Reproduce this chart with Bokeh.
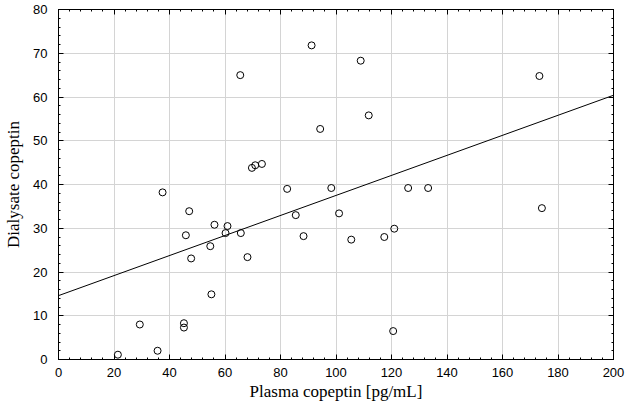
from bokeh.plotting import figure
from bokeh.models import LinearAxis, Range1d, SingleIntervalTicker, CustomJSTickFormatter, ColumnDataSource
from bokeh.embed import file_html
from bokeh.resources import INLINE
import numpy as np

# Data
plasma = [21.4, 29.3, 35.7, 37.5, 45.2, 45.2, 45.9, 47.1, 47.8, 54.7, 55.1, 56.2,
          60.2, 60.9, 65.5, 65.7, 68.1, 69.7, 70.9, 73.3, 82.4, 85.5, 88.3, 91.2,
          94.3, 98.3, 101.1, 105.5, 108.9, 111.8, 117.4, 120.6, 121.0, 126.0,
          133.2, 173.3, 174.2]
dialysate = [1.1, 8.0, 2.0, 38.2, 8.3, 7.3, 28.4, 33.9, 23.1, 25.9, 14.9, 30.8,
             28.9, 30.5, 65.0, 28.9, 23.4, 43.8, 44.4, 44.7, 39.0, 33.0, 28.2, 71.8,
             52.7, 39.2, 33.4, 27.4, 68.3, 55.8, 28.0, 6.5, 29.9, 39.2,
             39.2, 64.8, 34.6]
fit_intercept = 14.6
fit_slope = 0.229
x_range_limits = [0, 200]
y_range_limits = [0, 80]

p = figure(frame_width=555, frame_height=350, output_backend="svg", toolbar_location=None,
           x_range=Range1d(*x_range_limits), y_range=Range1d(*y_range_limits),
           min_border_left=58, min_border_right=15, min_border_top=9, min_border_bottom=42)
p.background_fill_color = "white"
p.border_fill_color = "white"
p.outline_line_color = "black"
p.outline_line_width = 1

fx = np.array(x_range_limits, dtype=float)
p.line(fx, fit_intercept + fit_slope * fx, line_color="black", line_width=1)

src = ColumnDataSource(dict(x=plasma, y=dialysate))
p.scatter("x", "y", source=src, size=7, marker="circle", fill_color=None,
          line_color="black", line_width=1)

xt = SingleIntervalTicker(interval=20, num_minor_ticks=5)
yt = SingleIntervalTicker(interval=10, num_minor_ticks=5)

def style(ax):
    ax.axis_line_color = "black"
    ax.major_tick_in = 5
    ax.major_tick_out = 0
    ax.minor_tick_in = 2
    ax.minor_tick_out = 0
    ax.major_tick_line_color = "black"
    ax.minor_tick_line_color = "black"
    ax.major_label_text_font = "Liberation Sans"
    ax.major_label_text_font_size = "13px"
    ax.major_label_text_color = "black"
    ax.axis_label_text_font = "Liberation Serif"
    ax.axis_label_text_font_size = "17px"
    ax.axis_label_text_font_style = "normal"
    ax.axis_label_text_color = "black"

xa = p.xaxis[0]
xa.ticker = xt
xa.axis_label = "Plasma copeptin [pg/mL]"
style(xa)
xa.major_label_standoff = 8
xa.axis_label_standoff = 2

ya = p.yaxis[0]
ya.ticker = yt
ya.axis_label = "Dialysate copeptin"
style(ya)
ya.major_label_standoff = 11
ya.axis_label_standoff = 7

empty = CustomJSTickFormatter(code="return ''")
ra = LinearAxis(ticker=SingleIntervalTicker(interval=10, num_minor_ticks=5), formatter=empty)
style(ra)
ra.major_label_standoff = 0
ra.major_label_text_font_size = "1px"
ta = LinearAxis(ticker=SingleIntervalTicker(interval=20, num_minor_ticks=5), formatter=empty)
style(ta)
ta.major_label_standoff = 0
ta.major_label_text_font_size = "1px"
p.add_layout(ra, "right")
p.add_layout(ta, "above")

p.xgrid.ticker = xt
p.ygrid.ticker = yt
p.grid.grid_line_color = "#d4d4d4"
p.grid.grid_line_width = 1

open("out.html", "w").write(file_html(p, INLINE))
